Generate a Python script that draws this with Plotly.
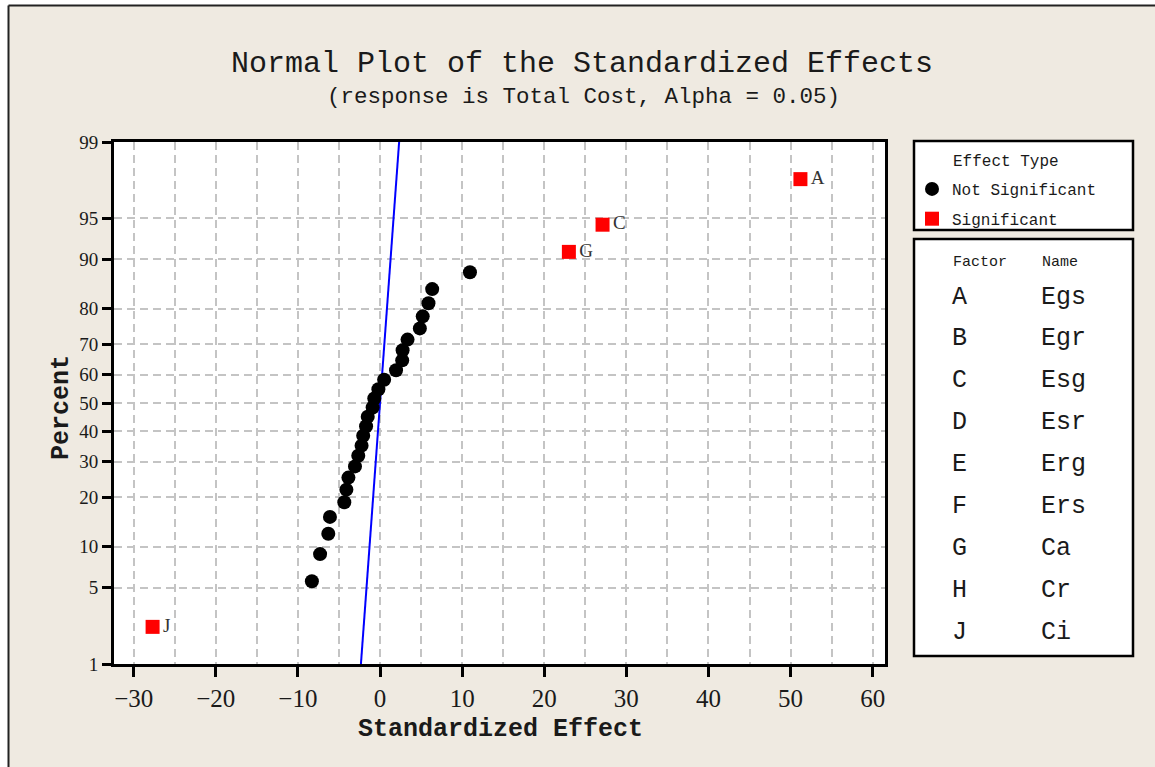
from statistics import NormalDist
import plotly.graph_objects as go

# ---------------- data ----------------
ns_effect = [-8.3, -7.3, -6.3, -6.1, -4.35, -4.1, -3.85, -3.05, -2.65, -2.25,
             -2.05, -1.7, -1.5, -0.9, -0.7, -0.2, 0.5, 1.95, 2.7, 2.75,
             3.35, 4.85, 5.2, 5.9, 6.35, 10.95]
ns_pct = [5.6, 8.9, 12.2, 15.5, 18.8, 22.0, 25.3, 28.6, 31.9, 35.2,
          38.5, 41.8, 45.1, 48.4, 51.6, 54.9, 58.2, 61.5, 64.8, 68.1,
          71.4, 74.7, 78.0, 81.3, 84.5, 87.8]

sig_labels = ["J", "G", "C", "A"]
sig_effect = [-27.7, 23.0, 27.1, 51.2]
sig_pct = [2.3, 91.1, 94.4, 97.7]

ref_effect = [-2.326, 2.326]
ref_pct = [1, 99]

y_tick_pct = [1, 5, 10, 20, 30, 40, 50, 60, 70, 80, 90, 95, 99]

factors = ["A", "B", "C", "D", "E", "F", "G", "H", "J"]
names = ["Egs", "Egr", "Esg", "Esr", "Erg", "Ers", "Ca", "Cr", "Ci"]

# ---------------- helpers ----------------
nd = NormalDist()


def zq(p):
    return nd.inv_cdf(p / 100.0)


W, H = 1155, 767
L, R, T, B = 114, 885, 142, 664


def px(X):
    return (X - L) / (R - L)


def py(Y):
    return (B - Y) / (B - T)


BG = "#efeae1"
GRID = "#c4c4c4"
MONO = "Liberation Mono, Courier New, monospace"
SERIF = "Liberation Serif, Times New Roman, serif"
TXT = "#1a1a1a"

fig = go.Figure()

fig.add_trace(go.Scatter(
    x=ref_effect, y=[zq(p) for p in ref_pct], mode="lines",
    line=dict(color="#0000ff", width=2), showlegend=False, hoverinfo="skip"))

fig.add_trace(go.Scatter(
    x=ns_effect, y=[zq(p) for p in ns_pct], mode="markers",
    name="Not Significant", legendgroup="a",
    marker=dict(symbol="circle", size=14, color="#000000")))

fig.add_trace(go.Scatter(
    x=sig_effect, y=[zq(p) for p in sig_pct], mode="markers",
    name="Significant", legendgroup="b",
    marker=dict(symbol="square", size=14, color="#ff0000")))

fig.add_trace(go.Scatter(
    x=sig_effect, y=[zq(p) for p in sig_pct], mode="markers+text",
    text=sig_labels, textposition="middle right",
    textfont=dict(family=SERIF, size=19, color="#333333"),
    marker=dict(size=15, color="rgba(0,0,0,0)"),
    showlegend=False, hoverinfo="skip"))

grid_common = dict(showgrid=True, gridcolor=GRID, gridwidth=2,
                   griddash="8px,5px")

fig.update_xaxes(
    range=[-32.4, 61.5], tick0=0, dtick=10, ticks="outside", ticklen=10,
    tickwidth=2.5, tickcolor="#000", showline=True, linecolor="#000",
    linewidth=3, mirror=True, zeroline=False,
    tickfont=dict(family=SERIF, size=25, color=TXT),
    minor=dict(dtick=5, tick0=0, ticks="", showgrid=True, gridcolor=GRID,
               gridwidth=2, griddash="8px,5px"),
    **grid_common)

fig.update_yaxes(
    range=[zq(1), zq(99)], tickmode="array",
    tickvals=[zq(p) for p in y_tick_pct], ticktext=[str(p) for p in y_tick_pct],
    ticks="outside", ticklen=9, tickwidth=2.5, tickcolor="#000",
    showline=True, linecolor="#000", linewidth=3, mirror=True,
    zeroline=False, tickfont=dict(family=SERIF, size=19, color=TXT),
    **grid_common)

shapes = [
    # white strips outside the outer frame
    dict(type="rect", xref="paper", yref="paper", x0=px(-5), x1=px(8),
         y0=py(H + 5), y1=py(-5), fillcolor="white", line=dict(width=0),
         layer="below"),
    dict(type="rect", xref="paper", yref="paper", x0=px(-5), x1=px(W + 5),
         y0=py(5), y1=py(-5), fillcolor="white", line=dict(width=0),
         layer="below"),
    # outer frame lines
    dict(type="line", xref="paper", yref="paper", x0=px(8.5), x1=px(8.5),
         y0=py(5.5), y1=py(H + 5), line=dict(color="#222", width=2)),
    dict(type="line", xref="paper", yref="paper", x0=px(8.5), x1=px(W + 5),
         y0=py(5.5), y1=py(5.5), line=dict(color="#222", width=2)),
    # legend boxes
    dict(type="rect", xref="paper", yref="paper", x0=px(914), x1=px(1133),
         y0=py(230), y1=py(141), fillcolor="white",
         line=dict(color="#000", width=2.5), layer="below"),
    dict(type="rect", xref="paper", yref="paper", x0=px(914), x1=px(1133),
         y0=py(656), y1=py(239), fillcolor="white",
         line=dict(color="#000", width=2.5), layer="below"),
]

ann = [
    dict(text="Normal Plot of the Standardized Effects", x=px(582), y=py(64),
         font=dict(family=MONO, size=30, color=TXT)),
    dict(text="(response is Total Cost, Alpha = 0.05)", x=px(583), y=py(97),
         font=dict(family=MONO, size=22.5, color=TXT)),
    dict(text="<b>Standardized Effect</b>", x=px(500), y=py(729),
         font=dict(family=MONO, size=25, color=TXT)),
    dict(text="<b>Percent</b>", x=px(61), y=py(407), textangle=-90,
         font=dict(family=MONO, size=25, color=TXT)),
    dict(text="Effect Type", x=px(951), y=py(162), xanchor="left",
         font=dict(family=MONO, size=16, color=TXT)),
    dict(text="Factor", x=px(951), y=py(262), xanchor="left",
         font=dict(family=MONO, size=15, color=TXT)),
    dict(text="Name", x=px(1040), y=py(262), xanchor="left",
         font=dict(family=MONO, size=15, color=TXT)),
]
for i, (f, n) in enumerate(zip(factors, names)):
    yy = 297 + i * 41.9
    ann.append(dict(text=f, x=px(950), y=py(yy), xanchor="left",
                    font=dict(family=MONO, size=25, color=TXT)))
    ann.append(dict(text=n, x=px(1039), y=py(yy), xanchor="left",
                    font=dict(family=MONO, size=25, color=TXT)))
for a in ann:
    a.update(xref="paper", yref="paper", showarrow=False,
             yanchor=a.get("yanchor", "middle"),
             xanchor=a.get("xanchor", "center"))

fig.update_layout(
    width=W, height=H,
    margin=dict(l=L, r=W - R, t=T, b=H - B),
    paper_bgcolor=BG, plot_bgcolor="white",
    shapes=shapes, annotations=ann,
    showlegend=True,
    legend=dict(x=px(912), y=py(172), xanchor="left", yanchor="top",
                bgcolor="rgba(0,0,0,0)", borderwidth=0,
                font=dict(family=MONO, size=16, color=TXT),
                traceorder="grouped", tracegroupgap=6),
)

fig.write_html("out.html")
